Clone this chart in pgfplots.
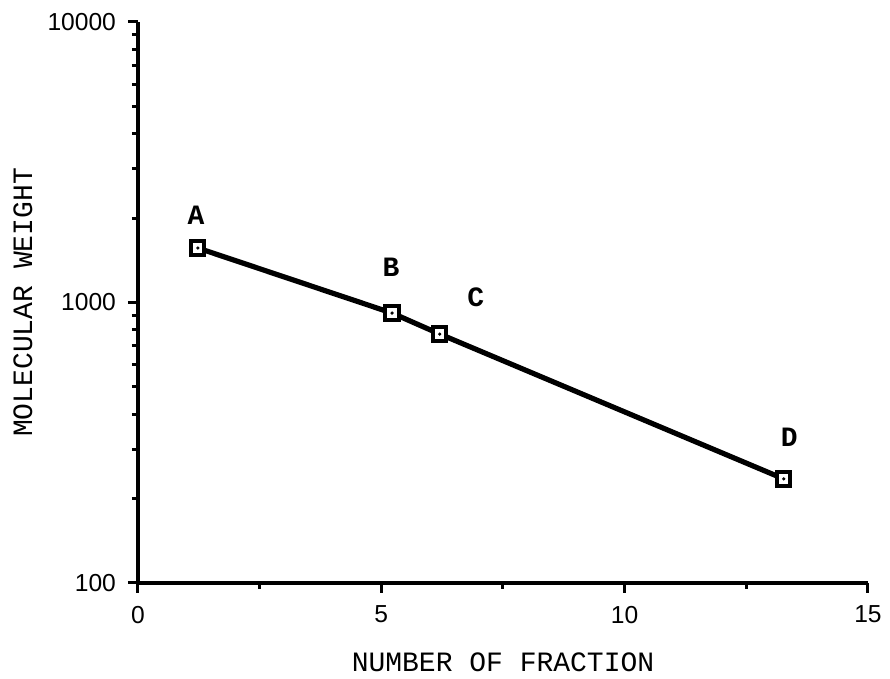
\documentclass[border=0pt]{standalone}
\usepackage{fontspec}
\usepackage{pgfplots}
\pgfplotsset{compat=1.18}
\setmainfont{Liberation Mono}
\newfontfamily\helv{Liberation Sans}
\begin{document}
\begin{tikzpicture}
\begin{axis}[
  scale only axis,
  width=365pt, height=280.5pt,
  ymode=log,
  xmin=0, xmax=15, ymin=100, ymax=10000,
  axis lines=left,
  axis line style={-, line width=1.7pt},
  every tick/.style={line width=1.5pt, black},
  tick align=outside,
  major tick length=5pt,
  minor tick length=3pt,
  xtick={0,5,10,15},
  minor xtick={2.5,7.5,12.5},
  ytick={100,1000,10000},
  yticklabels={100,1000,10000},
  /pgf/number format/assume math mode=true,
  tick label style={font=\helv\fontsize{12.3}{14}\selectfont},
  xticklabel style={yshift=-3pt},
  yticklabel style={xshift=-2.5pt},
  xlabel={NUMBER OF FRACTION},
  ylabel={MOLECULAR WEIGHT},
  label style={font=\fontsize{14}{16}\selectfont},
  xlabel style={at={([yshift=-39.5pt]axis description cs:0.5,0)}, anchor=center},
  ylabel style={at={([xshift=-57.5pt]axis description cs:0,0.5)}, anchor=center},
  clip=false,
]
\addplot[black, line width=2.6pt, mark=square*, mark size=3.3pt,
  mark options={fill=white, line width=2pt, solid}]
  coordinates {(1.23,1564) (5.22,917) (6.2,772) (13.27,235)};
\addplot[only marks, mark=*, mark size=0.6pt, black]
  coordinates {(1.23,1564) (5.22,917) (6.2,772) (13.27,235)};
\node[font=\bfseries\fontsize{14}{16}\selectfont] at (axis cs:1.19,2050) {A};
\node[font=\bfseries\fontsize{14}{16}\selectfont] at (axis cs:5.2,1338) {B};
\node[font=\bfseries\fontsize{14}{16}\selectfont] at (axis cs:6.94,1046) {C};
\node[font=\bfseries\fontsize{14}{16}\selectfont] at (axis cs:13.38,331.5) {D};
\end{axis}
\useasboundingbox (-69pt,-45pt) rectangle (376pt,291.5pt);
\end{tikzpicture}
\end{document}
